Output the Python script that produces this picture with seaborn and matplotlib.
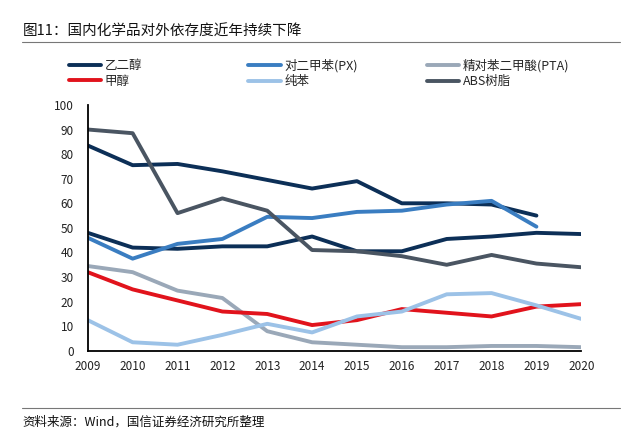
import numpy as np
import pandas as pd
import seaborn as sns
import matplotlib.pyplot as plt

years = list(range(2009, 2021))

# 依存度 (%)
eg = [83.5, 75.5, 76, 73, 69.5, 66, 69, 60, 60, 59.5, 55]          # 乙二醇 (to 2019)
eg2 = [48, 42, 41.5, 42.5, 42.5, 46.5, 40.5, 40.5, 45.5, 46.5, 48, 47.5]  # unlabeled navy line
px = [46, 37.5, 43.5, 45.5, 54.5, 54, 56.5, 57, 59.5, 61, 50.5]     # 对二甲苯(PX)
pta = [34.5, 32, 24.5, 21.5, 8, 3.5, 2.5, 1.5, 1.5, 2, 2, 1.5]
methanol = [32, 25, 20.5, 16, 15, 10.5, 12.5, 17, 15.5, 14, 18, 19]
benzene = [12.5, 3.5, 2.5, 6.5, 11, 7.5, 14, 16, 23, 23.5, 18.5, 13]
abs_resin = [90, 88.5, 56, 62, 57, 41, 40.5, 38.5, 35, 39, 35.5, 34]

sns.set_style('white')
plt.rcParams['font.family'] = ['Noto Sans CJK SC', 'DejaVu Sans']

fig = plt.figure(figsize=(6.36, 4.30), dpi=100)
ax = fig.add_axes([0.138, 0.184, 0.776, 0.572])

lw = 2.8
series = [
    ('乙二醇', eg, '#0c2f57'),
    ('_eg2', eg2, '#0c2f57'),
    ('对二甲苯(PX)', px, '#3a7dc1'),
    ('精对苯二甲酸(PTA)', pta, '#9aa8b8'),
    ('甲醇', methanol, '#e1131c'),
    ('纯苯', benzene, '#9cc2e7'),
    ('ABS树脂', abs_resin, '#4a5562'),
]
handles = {}
for name, vals, col in series:
    sns.lineplot(x=years[:len(vals)], y=vals, ax=ax, color=col, linewidth=lw,
                 label=name, legend=False)
    handles[name] = ax.lines[-1]

ax.set_xlim(2009, 2020)
ax.set_ylim(0, 100)
ax.set_xticks(years)
ax.set_yticks(range(0, 101, 10))
ax.tick_params(axis='both', length=0, labelsize=8.5, colors='#222222')
ax.tick_params(axis='x', pad=6.5)
ax.tick_params(axis='y', pad=10)
for s in ['top', 'right']:
    ax.spines[s].set_visible(False)
for s in ['left', 'bottom']:
    ax.spines[s].set_color('black')
    ax.spines[s].set_linewidth(1.3)

# legend in three columns
cols = [(['乙二醇', '甲醇'], 0.108), (['对二甲苯(PX)', '纯苯'], 0.39), (['精对苯二甲酸(PTA)', 'ABS树脂'], 0.671)]
for names, xpos in cols:
    leg = fig.legend([handles[n] for n in names], names, loc='upper left',
                     bbox_to_anchor=(xpos, 0.862), frameon=False, fontsize=9,
                     handlelength=2.6, handletextpad=0.3, labelspacing=0.2,
                     borderpad=0, borderaxespad=0)

fig.text(0.036, 0.927, '图11：国内化学品对外依存度近年持续下降', fontsize=10.5, va='center', color='#111111')
fig.add_artist(plt.Line2D([0.035, 0.975], [0.902, 0.902], color='#777777', linewidth=0.8))
fig.add_artist(plt.Line2D([0.035, 0.975], [0.051, 0.051], color='#777777', linewidth=0.8))
fig.text(0.036, 0.018, '资料来源：Wind，国信证券经济研究所整理', fontsize=9, va='center', color='#111111')

fig.savefig('out.png', dpi=100)
